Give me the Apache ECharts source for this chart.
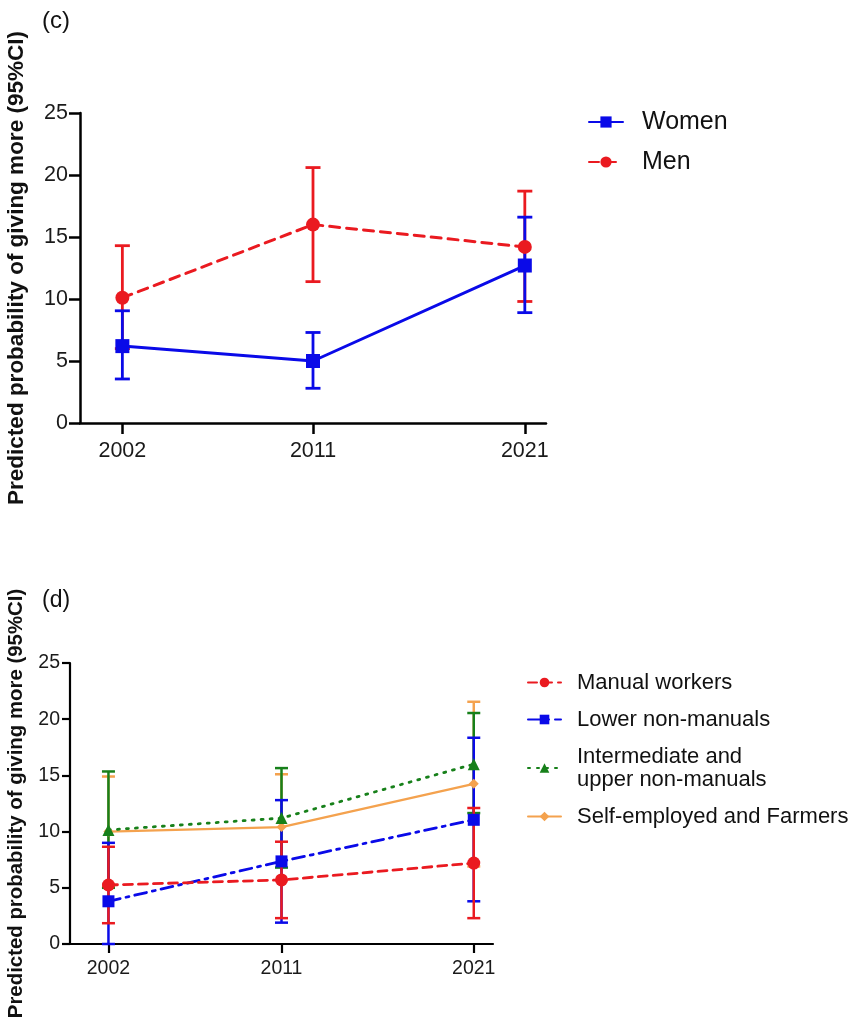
<!DOCTYPE html>
<html>
<head>
<meta charset="utf-8">
<script src="https://cdn.jsdelivr.net/npm/echarts@6/dist/echarts.min.js"></script>
<style>html,body{margin:0;padding:0;background:#fff;overflow:hidden}#c{width:861px;height:1018px}</style>
</head>
<body>
<div id="c"></div>
<script>
// ---- data ----
const years = [2002, 2011, 2021];

// panel (c)
const womenMean = [6.2, 5.0, 12.7];
const womenLow  = [3.55, 2.8, 8.9];
const womenHigh = [9.05, 7.3, 16.6];
const menMean = [10.1, 16.0, 14.2];
const menLow  = [6.0, 11.4, 9.8];
const menHigh = [14.3, 20.6, 18.7];

// panel (d)
const manualMean = [5.25, 5.7, 7.2];
const manualLow  = [1.85, 2.3, 2.3];
const manualHigh = [8.65, 9.1, 12.1];
const lowerMean = [3.8, 7.35, 11.05];
const lowerLow  = [0.0, 1.9, 3.8];
const lowerHigh = [9.0, 12.8, 18.35];
const interMean = [10.15, 11.2, 16.0];
const interLow  = [5.0, 6.8, 11.65];
const interHigh = [15.35, 15.65, 20.55];
const selfMean = [10.0, 10.4, 14.25];
const selfLow  = [5.1, 5.7, 6.9];
const selfHigh = [14.9, 15.1, 21.55];

const BLUE = '#0a0ae8', RED = '#ea1a20', GREEN = '#17801a', ORANGE = '#f4a24e';
const FONT = 'Liberation Sans, Arial, sans-serif';

function errSeries(name, low, high, color, gi, lw, hw) {
  return {
    type: 'custom', name: name, xAxisIndex: gi, yAxisIndex: gi, z: 2,
    data: years.map((y, i) => [y, low[i], high[i]]),
    encode: { x: 0, y: [1, 2] },
    renderItem: function (params, api) {
      const x = api.value(0);
      const pLo = api.coord([x, api.value(1)]);
      const pHi = api.coord([x, api.value(2)]);
      const st = { stroke: color, lineWidth: lw };
      return { type: 'group', children: [
        { type: 'line', shape: { x1: pLo[0], y1: pLo[1], x2: pHi[0], y2: pHi[1] }, style: st },
        { type: 'line', shape: { x1: pLo[0] - hw, y1: pLo[1], x2: pLo[0] + hw, y2: pLo[1] }, style: st },
        { type: 'line', shape: { x1: pHi[0] - hw, y1: pHi[1], x2: pHi[0] + hw, y2: pHi[1] }, style: st }
      ]};
    }
  };
}
function lineSeries(name, mean, color, gi, symbol, size, lineType, lw) {
  return {
    type: 'line', name: name, xAxisIndex: gi, yAxisIndex: gi, z: 3,
    data: years.map((y, i) => [y, mean[i]]),
    symbol: symbol, symbolSize: size, showAllSymbol: true,
    itemStyle: { color: color },
    lineStyle: { color: color, width: lw, type: lineType, cap: 'round' },
    emphasis: { disabled: true }
  };
}
function xAxis(gi, fs, margin, tickLen, aw) {
  return {
    type: 'value', gridIndex: gi, min: 2000, max: 2022,
    axisLine: { show: true, lineStyle: { color: '#000', width: aw } },
    axisTick: { show: true, customValues: years, length: tickLen, lineStyle: { color: '#000', width: aw } },
    axisLabel: { customValues: years, fontSize: fs, color: '#1a1a1a', fontFamily: FONT, margin: margin,
                 formatter: v => String(v) },
    splitLine: { show: false }
  };
}
function yAxis(gi, fs, margin, tickLen, aw, nfs, ngap) {
  return {
    type: 'value', gridIndex: gi, min: 0, max: 25, interval: 5,
    name: 'Predicted probability of giving more (95%CI)',
    nameLocation: 'middle', nameRotate: 90, nameGap: ngap,
    nameTextStyle: { fontSize: nfs, fontWeight: 'bold', color: '#111', fontFamily: FONT },
    axisLine: { show: true, lineStyle: { color: '#000', width: aw } },
    axisTick: { show: true, length: tickLen, lineStyle: { color: '#000', width: aw } },
    axisLabel: { fontSize: fs, color: '#1a1a1a', fontFamily: FONT, margin: margin },
    splitLine: { show: false }
  };
}

const chart = echarts.init(document.getElementById('c'));
chart.setOption({
  backgroundColor: '#fff',
  animation: false,
  title: [
    { text: '(c)', left: 42, top: 9, padding: 0, textStyle: { fontSize: 24, fontWeight: 'normal', color: '#111', fontFamily: FONT } },
    { text: '(d)', left: 42, top: 589, padding: 0, textStyle: { fontSize: 23, fontWeight: 'normal', color: '#111', fontFamily: FONT } }
  ],
  grid: [
    { left: 80, top: 113, width: 466, height: 310, outerBoundsMode: 'none', containLabel: false },
    { left: 70, top: 663, width: 423, height: 281, outerBoundsMode: 'none', containLabel: false }
  ],
  xAxis: [xAxis(0, 21.5, 17, 11, 2.5), xAxis(1, 19.5, 15, 9, 2.2)],
  yAxis: [yAxis(0, 21.5, 12, 11, 2.5, 22.5, 52), yAxis(1, 19.5, 10, 8, 2.2, 20.4, 44)],
  legend: [
    { data: ['Women', 'Men'], orient: 'vertical', left: 588, top: 109, padding: 0,
      itemWidth: 34, itemHeight: 14, itemGap: 14, selectedMode: false,
      textStyle: { fontSize: 25, lineHeight: 26, color: '#111', fontFamily: FONT, padding: [0, 0, 0, 14] } },
    { data: ['Manual workers', 'Lower non-manuals', 'Intermediate and\nupper non-manuals', 'Self-employed and Farmers'],
      orient: 'vertical', left: 527, top: 671, padding: 0,
      itemWidth: 33, itemHeight: 12, itemGap: 14, selectedMode: false,
      textStyle: { fontSize: 22, lineHeight: 23, color: '#111', fontFamily: FONT, padding: [0, 0, 0, 11] } }
  ],
  series: [
    errSeries('Men CI', menLow, menHigh, RED, 0, 2.8, 7.5),
    errSeries('Women CI', womenLow, womenHigh, BLUE, 0, 2.8, 7.5),
    lineSeries('Men', menMean, RED, 0, 'circle', 14, [10, 7], 3),
    lineSeries('Women', womenMean, BLUE, 0, 'rect', 14, 'solid', 3),

    errSeries('Self CI', selfLow, selfHigh, ORANGE, 1, 2.5, 6.5),
    errSeries('Inter CI', interLow, interHigh, GREEN, 1, 2.5, 6.5),
    errSeries('Lower CI', lowerLow, lowerHigh, BLUE, 1, 2.5, 6.5),
    errSeries('Manual CI', manualLow, manualHigh, RED, 1, 2.5, 6.5),
    lineSeries('Self-employed and Farmers', selfMean, ORANGE, 1, 'diamond', 10, 'solid', 2.4),
    lineSeries('Intermediate and\nupper non-manuals', interMean, GREEN, 1, 'triangle', 12, [2, 7], 2.8),
    lineSeries('Lower non-manuals', lowerMean, BLUE, 1, 'rect', 12, [12, 6, 3, 6], 2.8),
    lineSeries('Manual workers', manualMean, RED, 1, 'circle', 13, [9, 6], 2.8)
  ]
});
</script>
</body>
</html>
